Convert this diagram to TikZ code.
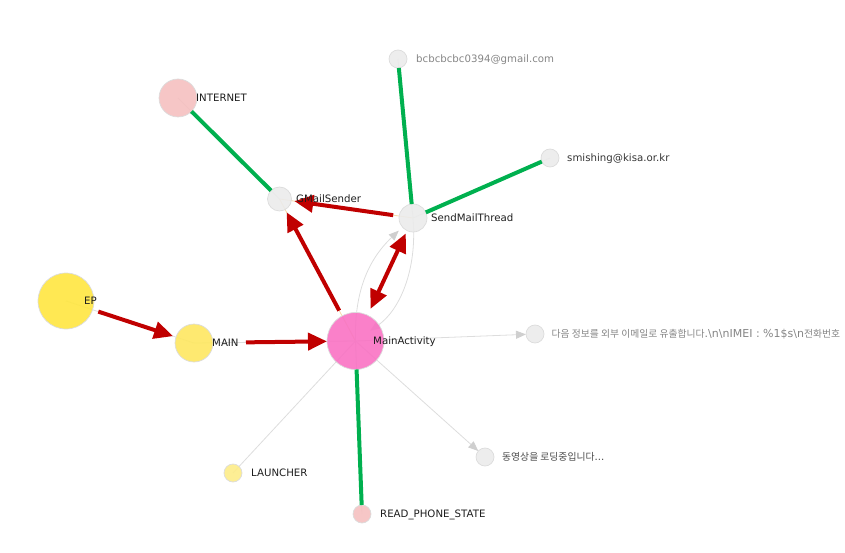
\documentclass[tikz,border=0pt]{standalone}
\usepackage{fontspec}
\setmainfont{DejaVu Sans}
\newfontfamily\kr{Noto Sans CJK KR}
\usetikzlibrary{arrows.meta}
\pgfdeclarelayer{bg}
\pgfsetlayers{bg,main}
\definecolor{redc}{HTML}{C00000}
\definecolor{greenc}{HTML}{00B04F}
\definecolor{lightline}{HTML}{DDDDDD}
\definecolor{peach}{HTML}{F6D9A8}
\definecolor{tipgrey}{HTML}{CFCFCF}
\definecolor{textdark}{HTML}{1E1E1E}
\definecolor{textgrey}{HTML}{858585}
\definecolor{textmid}{HTML}{4A4A4A}
\definecolor{yelA}{HTML}{FFE640}
\definecolor{yelB}{HTML}{FEE760}
\definecolor{yelC}{HTML}{FDEC88}
\definecolor{pinkA}{HTML}{F972C3}
\definecolor{rose}{HTML}{F5C0C0}
\definecolor{greyn}{HTML}{EBEBEB}
\definecolor{bordr}{HTML}{DCDCDC}
\newcommand{\krtxt}[1]{{\kr\fontsize{9.8}{11}\selectfont #1}}
\begin{document}
\begin{tikzpicture}[x=1pt,y=-1pt,
  nd/.style={circle,inner sep=0pt,outer sep=0pt,line width=0.7pt,draw=bordr,fill opacity=0.9},
  lbl/.style={anchor=base west,inner sep=0pt,font=\fontsize{10.2}{12}\selectfont,text=textdark},
  thinE/.style={draw=lightline,line width=0.8pt},
  thinP/.style={draw=peach,line width=0.8pt},
  redE/.style={draw=redc,line width=4pt,-{Triangle[length=19pt,width=17pt]}},
  redD/.style={draw=redc,line width=4pt,{Triangle[length=19pt,width=17pt]}-{Triangle[length=19pt,width=17pt]}},
  greenE/.style={draw=greenc,line width=4pt},
  greyA/.style={draw=lightline,line width=0.8pt,-{Triangle[length=10pt,width=8pt,color=tipgrey]}}
]
\useasboundingbox (0,0) rectangle (845,553);

% nodes
\node[nd,fill=yelA,minimum size=56pt] (EP) at (66,301) {};
\node[nd,fill=yelB,minimum size=38pt] (MAIN) at (194,343) {};
\node[nd,fill=pinkA,minimum size=57pt] (MA) at (355.5,341) {};
\node[nd,fill=greyn,minimum size=24pt] (GMS) at (279.5,199) {};
\node[nd,fill=greyn,minimum size=28pt] (SMT) at (413,218) {};
\node[nd,fill=rose,minimum size=38pt] (INT) at (178,98) {};
\node[nd,fill=greyn,minimum size=18pt] (BC) at (398,59) {};
\node[nd,fill=greyn,minimum size=18pt] (SM) at (550,158) {};
\node[nd,fill=greyn,minimum size=18pt] (DA) at (535,334) {};
\node[nd,fill=greyn,minimum size=18pt] (DY) at (485,457) {};
\node[nd,fill=yelC,minimum size=18pt] (LA) at (233,473) {};
\node[nd,fill=rose,minimum size=18pt] (RP) at (362,514) {};

% faint underlying edges
\begin{pgfonlayer}{bg}
  \draw[thinE] (EP.center) -- (MAIN.center);
  \draw[thinE] (MAIN.center) -- (MA.center);
  \draw[thinP] (MA.center) -- (GMS.center);
  \draw[thinP] (SMT.center) -- (GMS.center);
  \draw[thinE] (INT.center) -- (GMS.center);
  \draw[thinE] (BC.center) -- (SMT.center);
  \draw[thinE] (SM.center) -- (SMT.center);
  \draw[thinE] (MA.center) -- (RP.center);
  \draw[thinE] (MA.center) -- (LA.center);
  \draw[greyA] (MA.center) -- (DA);
  \draw[greyA] (MA.center) -- (DY);
  \draw[greyA,shorten >=5pt] (MA.center) to[bend left=24] (SMT);
  \draw[greyA,shorten >=18pt] (SMT.center) to[bend left=30] (MA.center);
\end{pgfonlayer}

% green edges
\draw[greenE] (INT) -- (GMS);
\draw[greenE] (BC) -- (SMT);
\draw[greenE] (SM) -- (SMT);
\draw[greenE] (MA) -- (RP);

% red edges
\draw[redE,shorten <=6pt,shorten >=3pt] (EP) -- (MAIN);
\draw[redE,shorten <=33pt] (MAIN) -- (MA);
\draw[redE,shorten <=6pt,shorten >=3pt] (MA) -- (GMS);
\draw[redE,shorten <=6pt,shorten >=3pt] (SMT) -- (GMS);
\draw[redD,shorten <=7pt,shorten >=3pt] (MA) -- (SMT);

% labels
\node[lbl] (lEP) at (84,304.7) {EP};
\node[lbl] (lMAIN) at (212,346.7) {MAIN};
\node[lbl] (lMA) at (373,344.7) {MainActivity};
\node[lbl] (lGMS) at (296,202.7) {GMailSender};
\node[lbl] (lSMT) at (431,221.7) {SendMailThread};
\node[lbl] (lINT) at (196,101.7) {INTERNET};
\node[lbl,text=textgrey] (lBC) at (416,62.7) {bcbcbcbc0394@gmail.com};
\node[lbl,text=textdark!90] (lSM) at (567,161.7) {smishing@kisa.or.kr};
\node[lbl,text=textgrey,font=\fontsize{11}{12}\selectfont] (lDA) at (551.5,337.7) {\krtxt{다음 정보를 외부 이메일로 유출합니다}.\textbackslash n\textbackslash nIMEI : \%1\$s\textbackslash n\krtxt{전화번호}};
\node[lbl,text=textmid] (lDY) at (502,460.7) {\krtxt{동영상을 로딩중입니다}...};
\node[lbl] (lLA) at (251,476.7) {LAUNCHER};
\node[lbl] (lRP) at (380,517.7) {READ\_PHONE\_STATE};
\end{tikzpicture}
\end{document}
